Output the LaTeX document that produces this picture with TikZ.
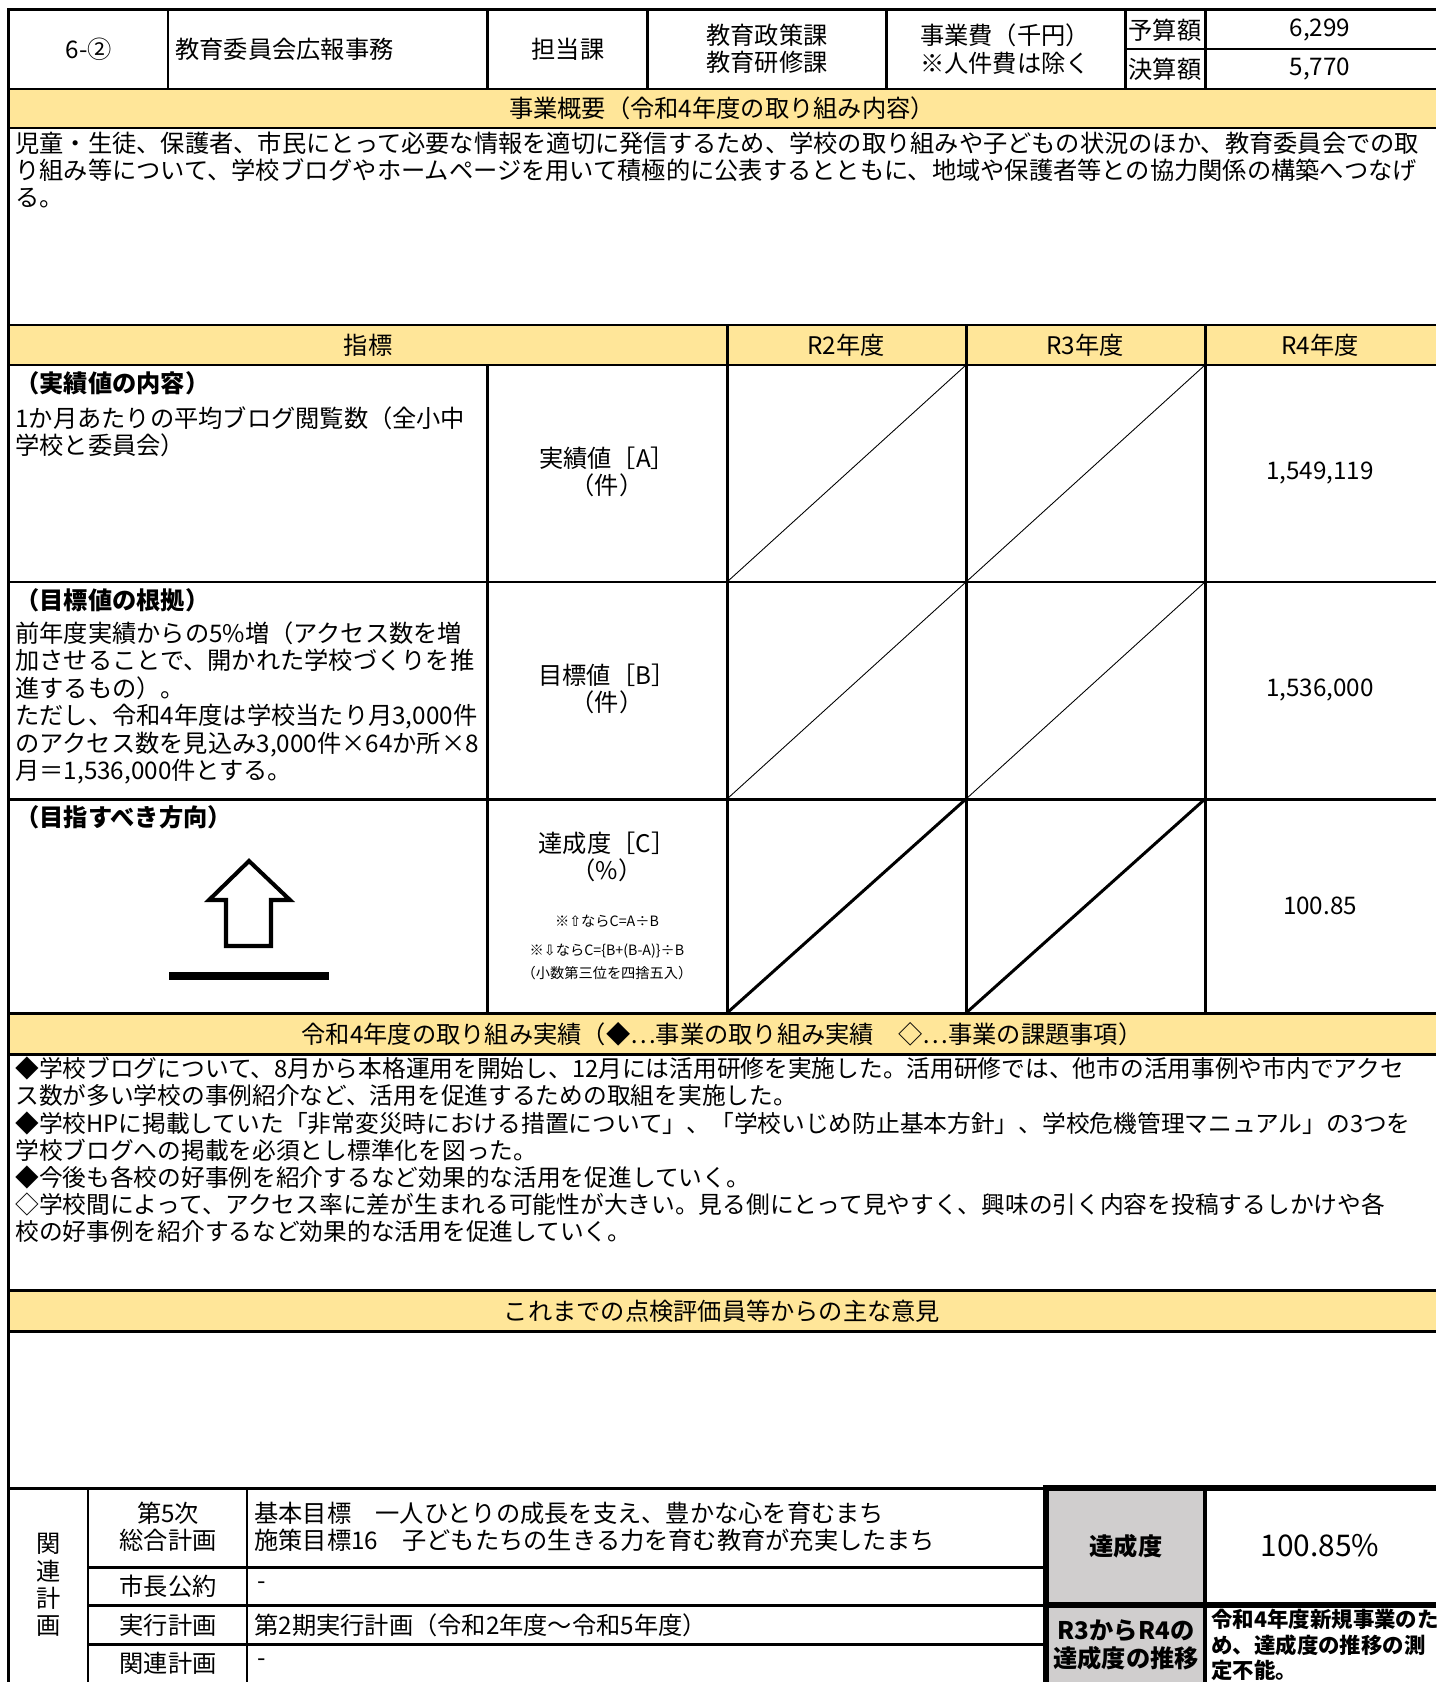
\documentclass[tikz,border=0pt]{standalone}
\usepackage{fontspec}
\setmainfont{Noto Sans CJK JP}
\newfontfamily\symfont{DejaVu Sans}
\usetikzlibrary{positioning}

\definecolor{bandyellow}{HTML}{FFE699}
\definecolor{boxgray}{HTML}{D0CECE}

\tikzset{
  rule/.style={line width=1.7pt},
  framerule/.style={line width=3.4pt},
  thindiag/.style={line width=0.5pt},
  thickdiag/.style={line width=1.7pt},
  txt/.style={inner sep=0pt, font=\fontsize{13.8}{15.6}\selectfont, align=center},
  lefttxt/.style={txt, anchor=west, align=left},
  headtxt/.style={inner sep=0pt, anchor=west, font=\fontsize{13.8}{15.6}\selectfont\bfseries},
  smalltxt/.style={inner sep=0pt, font=\fontsize{8.1}{9}\selectfont},
}

\begin{document}
\begin{tikzpicture}[x=0.02cm,y=-0.02cm]
\useasboundingbox (0,0) rectangle (1436,1682);

\fill[bandyellow] (8,89) rectangle (1436,128);
\fill[bandyellow] (8,325) rectangle (1436,365);
\fill[bandyellow] (8,1013) rectangle (1436,1054);
\fill[bandyellow] (8,1290) rectangle (1436,1331);
\fill[boxgray] (1046,1488) rectangle (1205,1682);

\begin{scope}[rule]
    \draw (8.7,1682) -- (8.7,10) -- (1436,10);
    \foreach \y in {89,128,325,365,582,799,1013,1054,1290,1331}
        \draw (8.7,\y) -- (1436,\y);
    \draw (8.7,1488) -- (1046,1488);
    \foreach \x in {168,487,647,886,1125,1205}
        \draw (\x,10) -- (\x,89);
    \draw (1125,49) -- (1436,49);
    \foreach \x in {727,966,1205}
        \draw (\x,325) -- (\x,1013);
    \draw (487,365) -- (487,1013);
    \foreach \x in {88,247}
        \draw (\x,1488) -- (\x,1682);
    \foreach \y in {1567,1605,1644}
        \draw (88,\y) -- (1046,\y);
\end{scope}

\foreach \xa/\xb in {727/966,966/1205} {
    \draw[thindiag] (\xa,582) -- (\xb,365);
    \draw[thindiag] (\xa,799) -- (\xb,582);
    \draw[thickdiag] (\xa,1013) -- (\xb,799);
}

\begin{scope}[framerule]
    \draw (1046,1682) -- (1046,1488) -- (1436,1488);
    \draw (1046,1605) -- (1436,1605);
    \draw[line width=2.3pt] (1205,1488) -- (1205,1682);
\end{scope}

\draw[line width=2.3pt, line join=miter] (249,861) -- (290,900) -- (271,900) -- (271,946)
    -- (226,946) -- (226,900) -- (209,900) -- cycle;
\fill (169,972) rectangle (329,980);

\node[txt] (num) at (89,49) {6-②};
\node[lefttxt] (jigyo) at (175,49) {教育委員会広報事務};
\node[txt] (tanto) at (568,49) {担当課};
\node[txt] (ka) at (767,49) {教育政策課\\教育研修課};
\node[txt] (jigyohi) at (1005,49) {事業費（千円）\\※人件費は除く};
\node[txt] (yosan) at (1165,30) {予算額};
\node[txt] (kessan) at (1165,69) {決算額};
\node[txt] (yosanv) at (1320,30) {6,299};
\node[txt] (kessanv) at (1320,69) {5,770};

\node[txt] (gaiyo) at (722,108) {事業概要（令和4年度の取り組み内容）};
\node[lefttxt] (gaiyotxt) at (15,170) {児童・生徒、保護者、市民にとって必要な情報を適切に発信するため、学校の取り組みや子どもの状況のほか、教育委員会での取\\り組み等について、学校ブログやホームページを用いて積極的に公表するとともに、地域や保護者等との協力関係の構築へつなげ\\る。};

\node[txt] (shihyo) at (368,345) {指標};
\node[txt] (r2) at (846,345) {R2年度};
\node[txt] (r3) at (1085,345) {R3年度};
\node[txt] (r4) at (1320,345) {R4年度};

\node[headtxt] (naiyo) at (15,383) {（実績値の内容）};
\node[lefttxt] (naiyotxt) at (15,432) {1か月あたりの平均ブログ閲覧数（全小中\\学校と委員会）};
\node[txt] (jisseki) at (607,472) {実績値［A］\\（件）};
\node[txt] (jissekiv) at (1320,473) {1,549,119};

\node[headtxt] (konkyo) at (15,600) {（目標値の根拠）};
\node[lefttxt] (konkyotxt) at (15,703) {前年度実績からの5\%増（アクセス数を増\\加させることで、開かれた学校づくりを推\\進するもの）。\\ただし、令和4年度は学校当たり月3,000件\\のアクセス数を見込み3,000件×64か所×8\\月＝1,536,000件とする。};
\node[txt] (mokuhyo) at (607,689) {目標値［B］\\（件）};
\node[txt] (mokuhyov) at (1320,690) {1,536,000};

\node[headtxt] (hoko) at (15,817) {（目指すべき方向）};
\node[txt] (tassei) at (607,857) {達成度［C］\\（\%）};
\node[smalltxt] (shikiup) at (607,921) {※{\symfont ⇧}ならC=A÷B};
\node[smalltxt] (shikidown) at (607,951) {※{\symfont ⇩}ならC=\{B+(B-A)\}÷B};
\node[smalltxt] (shisha) at (607,973) {（小数第三位を四捨五入）};
\node[txt] (tasseiv) at (1320,906) {100.85};

\node[txt] (torikumi) at (722,1034) {令和4年度の取り組み実績（◆…事業の取り組み実績　◇…事業の課題事項）};
\node[lefttxt, font=\fontsize{13.5}{15.5}\selectfont] (torikumitxt) at (15,1150) {◆学校ブログについて、8月から本格運用を開始し、12月には活用研修を実施した。活用研修では、他市の活用事例や市内でアクセ\\ス数が多い学校の事例紹介など、活用を促進するための取組を実施した。\\◆学校HPに掲載していた「非常変災時における措置について」、「学校いじめ防止基本方針」、学校危機管理マニュアル」の3つを\\学校ブログへの掲載を必須とし標準化を図った。\\◆今後も各校の好事例を紹介するなど効果的な活用を促進していく。\\◇学校間によって、アクセス率に差が生まれる可能性が大きい。見る側にとって見やすく、興味の引く内容を投稿するしかけや各\\校の好事例を紹介するなど効果的な活用を促進していく。};

\node[txt] (iken) at (722,1311) {これまでの点検評価員等からの主な意見};

\node[txt] (kanren) at (49,1585) {関\\連\\計\\画};
\node[txt] (sogo) at (168,1527) {第5次\\総合計画};
\node[lefttxt] (sogotxt) at (254,1527) {基本目標　一人ひとりの成長を支え、豊かな心を育むまち\\施策目標16　子どもたちの生きる力を育む教育が充実したまち};
\node[txt] (kouyaku) at (168,1586) {市長公約};
\node[lefttxt] (kouyakutxt) at (257,1586) {-};
\node[txt] (jikko) at (168,1625) {実行計画};
\node[lefttxt] (jikkotxt) at (254,1625) {第2期実行計画（令和2年度～令和5年度）};
\node[txt] (kanrenkeikaku) at (168,1663) {関連計画};
\node[lefttxt] (kanrentxt) at (257,1663) {-};

\node[txt, font=\fontsize{13.8}{15.6}\selectfont\bfseries] (tasseido) at (1126,1546) {達成度};
\node[txt, font=\fontsize{17}{20}\selectfont] (tasseidov) at (1320,1546) {100.85\%};
\node[txt, font=\fontsize{13.8}{15.6}\selectfont\bfseries] (suii) at (1126,1645) {R3からR4の\\達成度の推移};
\node[lefttxt, font=\fontsize{12.2}{14.5}\selectfont\bfseries] (suiitxt) at (1211,1645) {令和4年度新規事業のた\\め、達成度の推移の測\\定不能。};
\end{tikzpicture}
\end{document}
